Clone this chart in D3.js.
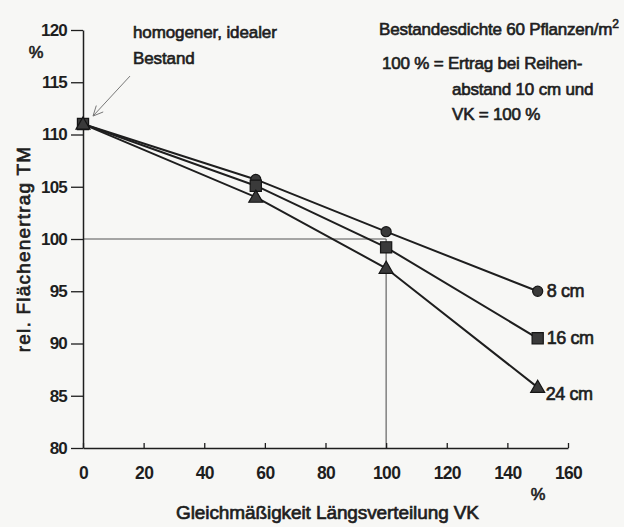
<!DOCTYPE html>
<html><head><meta charset="utf-8">
<script src="https://cdn.jsdelivr.net/npm/d3@7"></script>
<style>
body{margin:0;background:#f7f7f5}
text{font-family:"Liberation Sans",Arial,sans-serif;fill:#1e1e1e}
</style>
</head><body>
<svg id="c" width="624" height="527"></svg>
<script>
// ---- data ----
const vkValues = [0, 57, 100, 150];
const seriesNames = ["8 cm", "16 cm", "24 cm"];
const yield8 = [111, 105.7, 100.7, 95.0];
const yield16 = [111, 105.1, 99.2, 90.5];
const yield24 = [111, 104.0, 97.2, 85.8];
const xTickValues = [0, 20, 40, 60, 80, 100, 120, 140, 160];
const yTickValues = [80, 85, 90, 95, 100, 105, 110, 115, 120];
const refPoint = [100, 100];

const svg = d3.select("#c");
const x = d3.scaleLinear().domain([0, 160]).range([83, 568]);
const y = d3.scaleLinear().domain([80, 120]).range([448, 30]);

const ink = "#1e1e1e";

// reference crosshair at 100/100
svg.append("line").attr("x1", x(0)).attr("x2", x(refPoint[0]))
  .attr("y1", y(refPoint[1])).attr("y2", y(refPoint[1]))
  .attr("stroke", "#555").attr("stroke-width", 1.1);
svg.append("line").attr("x1", x(refPoint[0])).attr("x2", x(refPoint[0]))
  .attr("y1", y(refPoint[1])).attr("y2", y(80))
  .attr("stroke", "#555").attr("stroke-width", 1.1);

// axes
const yAxis = d3.axisLeft(y).tickValues(yTickValues).tickSize(12).tickSizeOuter(0).tickPadding(4);
const gy = svg.append("g").attr("transform", `translate(${x(0)},0)`).call(yAxis);
gy.selectAll("text").style("font-size", "17px").style("font-weight", "bold").attr("fill", ink).style("letter-spacing", "-0.8px");
gy.selectAll("line").attr("stroke", ink).attr("stroke-width", 1.3);
gy.select(".domain").attr("stroke", ink).attr("stroke-width", 1.5);

const xAxis = d3.axisBottom(x).tickValues(xTickValues).tickSize(-5).tickSizeOuter(0).tickPadding(19);
const gx = svg.append("g").attr("transform", `translate(0,${y(80)})`).call(xAxis);
gx.selectAll("text").style("font-size", "17.5px").style("font-weight", "bold").attr("fill", ink).style("letter-spacing", "-0.7px");
gx.selectAll("line").attr("stroke", ink).attr("stroke-width", 1.3);
gx.select(".domain").attr("stroke", ink).attr("stroke-width", 1.5);

// series
const allSeries = [yield8, yield16, yield24];
const symbols = [d3.symbolCircle, d3.symbolSquare, d3.symbolTriangle];
const symSizes = [80, 125, 85];
const line = d3.line().x((d, i) => x(vkValues[i])).y(d => y(d));
allSeries.forEach((vals) => {
  svg.append("path").attr("d", line(vals)).attr("fill", "none")
    .attr("stroke", ink).attr("stroke-width", 2);
});
allSeries.forEach((vals, si) => {
  svg.selectAll(null).data(vals).enter().append("path")
    .attr("d", d3.symbol().type(symbols[si]).size(symSizes[si]))
    .attr("transform", (d, i) => `translate(${x(vkValues[i])},${y(d) + (si === 2 ? 1 : 0)})`)
    .attr("fill", "#3a3a3a").attr("stroke", "#151515").attr("stroke-width", 1.2);
});

// series labels
const labelOffsets = [[9, 6], [9, 6], [8, 13]];
allSeries.forEach((vals, si) => {
  const last = vals.length - 1;
  svg.append("text").attr("x", x(vkValues[last]) + labelOffsets[si][0])
    .attr("y", y(vals[last]) + labelOffsets[si][1])
    .style("font-size", "18px").style("letter-spacing", "-0.4px")
    .attr("stroke", ink).attr("stroke-width", 0.65)
    .text(seriesNames[si]);
});

// axis titles and units
function txt(xp, yp, s, size, opts = {}) {
  const t = svg.append("text").attr("x", xp).attr("y", yp).text(s)
    .style("font-size", size + "px").attr("stroke", ink).attr("stroke-width", opts.sw ?? 0.65);
  if (opts.anchor) t.attr("text-anchor", opts.anchor);
  if (opts.ls) t.style("letter-spacing", opts.ls);
  return t;
}
txt(36, 58, "%", 16.5, {anchor: "middle"});
txt(538, 500, "%", 16.5, {anchor: "middle"});
txt((172 + 483) / 2, 519, "Gleichmäßigkeit Längsverteilung VK", 19, {anchor: "middle", ls: "-0.1px", sw: 0.7});
svg.append("text").attr("transform", "translate(30,249) rotate(-90)")
  .attr("text-anchor", "middle").style("font-size", "19px").style("letter-spacing", "1.2px")
  .attr("stroke", ink).attr("stroke-width", 0.7)
  .text("rel. Flächenertrag TM");

// annotations
txt(133, 38, "homogener, idealer", 17, {ls: "-0.1px"});
txt(133, 64, "Bestand", 17, {ls: "-0.1px"});
const t1 = txt(379, 35, "Bestandesdichte 60 Pflanzen/m", 17, {ls: "-0.2px"});
t1.append("tspan").attr("dy", -7).style("font-size", "12px").text("2");
txt(382, 69, "100 % = Ertrag bei Reihen-", 17, {ls: "-0.2px"});
txt(452, 95, "abstand 10 cm und", 17, {ls: "-0.2px"});
txt(452, 120, "VK = 100 %", 17, {ls: "-0.2px"});

// arrow pointing to the homogeneous stand point
const ax0 = x(0) + 47, ay0 = y(111) - 48, ax1 = x(0) + 10, ay1 = y(111) - 8;
svg.append("line").attr("x1", ax0).attr("y1", ay0).attr("x2", ax1).attr("y2", ay1)
  .attr("stroke", "#777").attr("stroke-width", 1);
const ang = Math.atan2(ay1 - ay0, ax1 - ax0);
const head = [ang + 2.7, ang - 2.7].map(a => [ax1 + 11 * Math.cos(a), ay1 + 11 * Math.sin(a)]);
svg.append("path").attr("d", `M${head[0]}L${ax1},${ay1}L${head[1]}`)
  .attr("fill", "none").attr("stroke", "#777").attr("stroke-width", 1);
</script>
</body></html>
